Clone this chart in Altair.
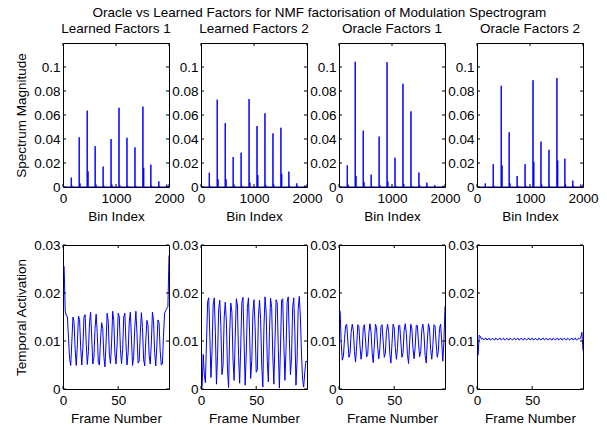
import altair as alt
import pandas as pd

# ---- spectral factors: bins of the harmonic peaks and their magnitudes ----
harmonic_bins = [156, 306, 457, 607, 757, 907, 1057, 1207, 1358, 1508, 1658, 1808, 1958]

learned1_peaks = [0.0078, 0.0414, 0.0636, 0.0340, 0.0170, 0.0400, 0.0660, 0.0410, 0.0330, 0.0670, 0.0186, 0.0047, 0.0020]
learned1_side = [0.0010, 0.0030, 0.0130, 0.0020, 0.0010, 0.0020, 0.0015, 0.0010, 0.0010, 0.0160, 0.0010, 0.0005, 0.0000]

learned2_peaks = [0.0119, 0.0728, 0.0533, 0.0250, 0.0286, 0.0733, 0.0508, 0.0614, 0.0447, 0.0494, 0.0128, 0.0030, 0.0012]
learned2_side = [0.0010, 0.0064, 0.0064, 0.0020, 0.0010, 0.0036, 0.0100, 0.0017, 0.0020, 0.0110, 0.0010, 0.0005, 0.0000]

oracle1_peaks = [0.0180, 0.1044, 0.0470, 0.0103, 0.0420, 0.1040, 0.0244, 0.0860, 0.0630, 0.0120, 0.0036, 0.0015, 0.0010]
oracle1_side = [0.0020, 0.0090, 0.0040, 0.0005, 0.0015, 0.0045, 0.0010, 0.0025, 0.0010, 0.0015, 0.0005, 0.0000, 0.0000]

oracle2_peaks = [0.0030, 0.0190, 0.0844, 0.0456, 0.0092, 0.0190, 0.0890, 0.0378, 0.0310, 0.0908, 0.0236, 0.0053, 0.0020]
oracle2_side = [0.0000, 0.0010, 0.0180, 0.0030, 0.0010, 0.0010, 0.0210, 0.0020, 0.0010, 0.0220, 0.0020, 0.0010, 0.0000]

spectrum_length = 2000

# ---- temporal activations, one value per frame ----
frames = list(range(1, 97))

learned1_act = [
    0.0256, 0.0163, 0.0152, 0.0151, 0.0105, 0.0062, 0.0049, 0.0098, 0.0150, 0.0140,
    0.0082, 0.0049, 0.0092, 0.0152, 0.0145, 0.0088, 0.0050, 0.0085, 0.0150, 0.0155,
    0.0096, 0.0051, 0.0078, 0.0138, 0.0160, 0.0108, 0.0052, 0.0066, 0.0126, 0.0156,
    0.0118, 0.0055, 0.0050, 0.0104, 0.0138, 0.0126, 0.0068, 0.0046, 0.0098, 0.0158,
    0.0140, 0.0072, 0.0053, 0.0096, 0.0162, 0.0142, 0.0074, 0.0052, 0.0092, 0.0158,
    0.0150, 0.0083, 0.0053, 0.0082, 0.0150, 0.0158, 0.0095, 0.0050, 0.0076, 0.0140,
    0.0160, 0.0104, 0.0049, 0.0068, 0.0128, 0.0162, 0.0116, 0.0054, 0.0058, 0.0116,
    0.0159, 0.0128, 0.0062, 0.0048, 0.0102, 0.0143, 0.0132, 0.0070, 0.0052, 0.0096,
    0.0160, 0.0142, 0.0076, 0.0048, 0.0090, 0.0144, 0.0138, 0.0080, 0.0050, 0.0052,
    0.0110, 0.0158, 0.0163, 0.0168, 0.0172, 0.0278,
]

learned2_act = [
    0.0003, 0.0072, 0.0030, 0.0013, 0.0100, 0.0182, 0.0190, 0.0110, 0.0024, 0.0080,
    0.0175, 0.0190, 0.0120, 0.0010, 0.0070, 0.0165, 0.0185, 0.0130, 0.0030, 0.0050,
    0.0150, 0.0181, 0.0140, 0.0040, 0.0003, 0.0120, 0.0179, 0.0160, 0.0060, 0.0018,
    0.0110, 0.0188, 0.0175, 0.0070, 0.0012, 0.0090, 0.0180, 0.0191, 0.0100, 0.0008,
    0.0075, 0.0170, 0.0190, 0.0115, 0.0022, 0.0060, 0.0160, 0.0186, 0.0130, 0.0035,
    0.0040, 0.0150, 0.0185, 0.0145, 0.0050, 0.0004, 0.0130, 0.0192, 0.0160, 0.0060,
    0.0015, 0.0120, 0.0189, 0.0170, 0.0070, 0.0010, 0.0100, 0.0186, 0.0180, 0.0085,
    0.0002, 0.0090, 0.0185, 0.0188, 0.0095, 0.0018, 0.0080, 0.0180, 0.0192, 0.0105,
    0.0030, 0.0065, 0.0170, 0.0190, 0.0120, 0.0008, 0.0060, 0.0165, 0.0193, 0.0150,
    0.0075, 0.0020, 0.0004, 0.0035, 0.0058, 0.0057,
]

oracle1_act = [
    0.0163, 0.0096, 0.0060, 0.0068, 0.0105, 0.0132, 0.0135, 0.0100, 0.0066, 0.0074,
    0.0118, 0.0135, 0.0122, 0.0078, 0.0056, 0.0090, 0.0134, 0.0130, 0.0090, 0.0062,
    0.0082, 0.0128, 0.0134, 0.0102, 0.0067, 0.0072, 0.0115, 0.0136, 0.0120, 0.0076,
    0.0055, 0.0092, 0.0135, 0.0128, 0.0088, 0.0063, 0.0084, 0.0130, 0.0134, 0.0100,
    0.0066, 0.0074, 0.0120, 0.0135, 0.0118, 0.0074, 0.0054, 0.0095, 0.0135, 0.0127,
    0.0086, 0.0062, 0.0086, 0.0132, 0.0133, 0.0098, 0.0066, 0.0076, 0.0122, 0.0136,
    0.0116, 0.0072, 0.0053, 0.0098, 0.0135, 0.0126, 0.0084, 0.0063, 0.0088, 0.0133,
    0.0132, 0.0096, 0.0067, 0.0078, 0.0124, 0.0135, 0.0114, 0.0070, 0.0054, 0.0100,
    0.0136, 0.0125, 0.0082, 0.0062, 0.0090, 0.0134, 0.0131, 0.0094, 0.0066, 0.0080,
    0.0126, 0.0135, 0.0100, 0.0058, 0.0098, 0.0172,
]

oracle2_act = [
    0.0070, 0.0112, 0.0110, 0.0104, 0.0106, 0.0102, 0.0105, 0.0106, 0.0102, 0.0104,
    0.0106, 0.0102, 0.0103, 0.0106, 0.0103, 0.0102, 0.0106, 0.0104, 0.0102, 0.0105,
    0.0106, 0.0102, 0.0104, 0.0106, 0.0102, 0.0103, 0.0106, 0.0103, 0.0102, 0.0106,
    0.0104, 0.0102, 0.0105, 0.0106, 0.0102, 0.0104, 0.0106, 0.0102, 0.0103, 0.0106,
    0.0103, 0.0102, 0.0106, 0.0104, 0.0102, 0.0105, 0.0106, 0.0102, 0.0104, 0.0106,
    0.0102, 0.0103, 0.0106, 0.0103, 0.0102, 0.0106, 0.0104, 0.0102, 0.0105, 0.0106,
    0.0102, 0.0104, 0.0106, 0.0102, 0.0103, 0.0106, 0.0103, 0.0102, 0.0106, 0.0104,
    0.0102, 0.0105, 0.0106, 0.0102, 0.0104, 0.0106, 0.0102, 0.0103, 0.0106, 0.0103,
    0.0102, 0.0106, 0.0104, 0.0102, 0.0105, 0.0106, 0.0102, 0.0104, 0.0106, 0.0102,
    0.0103, 0.0106, 0.0104, 0.0108, 0.0118, 0.0080,
]

panel_titles = ["Learned Factors 1", "Learned Factors 2", "Oracle Factors 1", "Oracle Factors 2"]
spectrum_ticks_x = [0, 1000, 2000]
spectrum_ticks_y = [0, 0.02, 0.04, 0.06, 0.08, 0.1]
activation_ticks_x = [0, 50]
activation_ticks_y = [0, 0.01, 0.02, 0.03]

# ---- styling ----
W, H = 106, 144
FONT = "Liberation Sans"
FS = 13.5
BLUE = "#0000ff"
TICK = 3


def spectrum_table(peaks, side):
    """Line table: flat baseline with a narrow spike at every harmonic bin."""
    xs, ys = [1], [0.0]
    for b, p, s in zip(harmonic_bins, peaks, side):
        xs += [b - 1, b, b + 1, b + 14, b + 15, b + 16]
        ys += [0.0, p, 0.0, 0.0, s, 0.0]
    xs.append(spectrum_length)
    ys.append(0.0)
    return pd.DataFrame({"x": xs, "y": ys})


def panel(df, xdom, ydom, xticks, yticks, xtitle, ytitle=None, title=None):
    xscale = alt.Scale(domain=xdom, nice=False, zero=False)
    yscale = alt.Scale(domain=ydom, nice=False, zero=False)
    xaxis = alt.Axis(values=xticks, title=xtitle, grid=False, ticks=False, domain=False,
                     labelPadding=4, titlePadding=5, labelFlush=False, labelOverlap=False,
                     format="d")
    yaxis_kw = dict(values=yticks, grid=False, ticks=False, domain=False, labelPadding=3,
                    labelOverlap=False, labelFlush=False, format="~g", titlePadding=5)
    if ytitle:
        yaxis = alt.Axis(title=ytitle, **yaxis_kw)
    else:
        yaxis = alt.Axis(title="", **yaxis_kw)

    X = alt.X("x:Q", scale=xscale, axis=xaxis)
    Y = alt.Y("y:Q", scale=yscale, axis=yaxis)

    line = alt.Chart(df).mark_line(color=BLUE, strokeWidth=1, clip=True).encode(x=X, y=Y)

    # inward tick marks on all four sides of the box
    xt = pd.DataFrame({"x": xticks})
    yt = pd.DataFrame({"y": yticks})
    rule = dict(color="black", strokeWidth=1)
    tick_x_bottom = alt.Chart(xt).mark_rule(**rule).encode(
        x=X, y=alt.value(H), y2=alt.value(H - TICK))
    tick_x_top = alt.Chart(xt).mark_rule(**rule).encode(
        x=X, y=alt.value(0), y2=alt.value(TICK))
    tick_y_left = alt.Chart(yt).mark_rule(**rule).encode(
        y=Y, x=alt.value(0), x2=alt.value(TICK))
    tick_y_right = alt.Chart(yt).mark_rule(**rule).encode(
        y=Y, x=alt.value(W - TICK), x2=alt.value(W))

    props = dict(width=W, height=H)
    if title:
        props["title"] = alt.TitleParams(title, fontSize=FS, font=FONT, fontWeight="normal",
                                         color="black", offset=-7, baseline="bottom")
    return alt.layer(line, tick_x_bottom, tick_x_top, tick_y_left, tick_y_right).properties(**props)


spectra = [
    spectrum_table(learned1_peaks, learned1_side),
    spectrum_table(learned2_peaks, learned2_side),
    spectrum_table(oracle1_peaks, oracle1_side),
    spectrum_table(oracle2_peaks, oracle2_side),
]
activations = [learned1_act, learned2_act, oracle1_act, oracle2_act]

top_panels = [
    panel(df, [0, 2000], [0, 0.12], spectrum_ticks_x, spectrum_ticks_y, "Bin Index",
          "Spectrum Magnitude" if i == 0 else None, panel_titles[i])
    for i, df in enumerate(spectra)
]
bottom_panels = [
    panel(pd.DataFrame({"x": frames, "y": act}), [0, 96], [0, 0.03], activation_ticks_x,
          activation_ticks_y, "Frame Number", "Temporal Activation" if i == 0 else None)
    for i, act in enumerate(activations)
]

chart = alt.concat(
    *top_panels, *bottom_panels, columns=4, bounds="flush",
    spacing={"row": 58, "column": 32},
).properties(
    title=alt.TitleParams(
        "Oracle vs Learned Factors for NMF factorisation of Modulation Spectrogram",
        fontSize=FS, font=FONT, fontWeight="normal", color="black", anchor="middle",
        offset=2, dx=13,
    ),
    padding={"left": 14, "top": 6, "right": 8, "bottom": 0},
    background="white",
).configure_view(
    stroke="black", strokeWidth=1
).configure_axis(
    labelFont=FONT, labelFontSize=FS, labelColor="black",
    titleFont=FONT, titleFontSize=FS, titleColor="black", titleFontWeight="normal",
)

chart.save("out.html", embed_options={"renderer": "svg", "actions": False})
